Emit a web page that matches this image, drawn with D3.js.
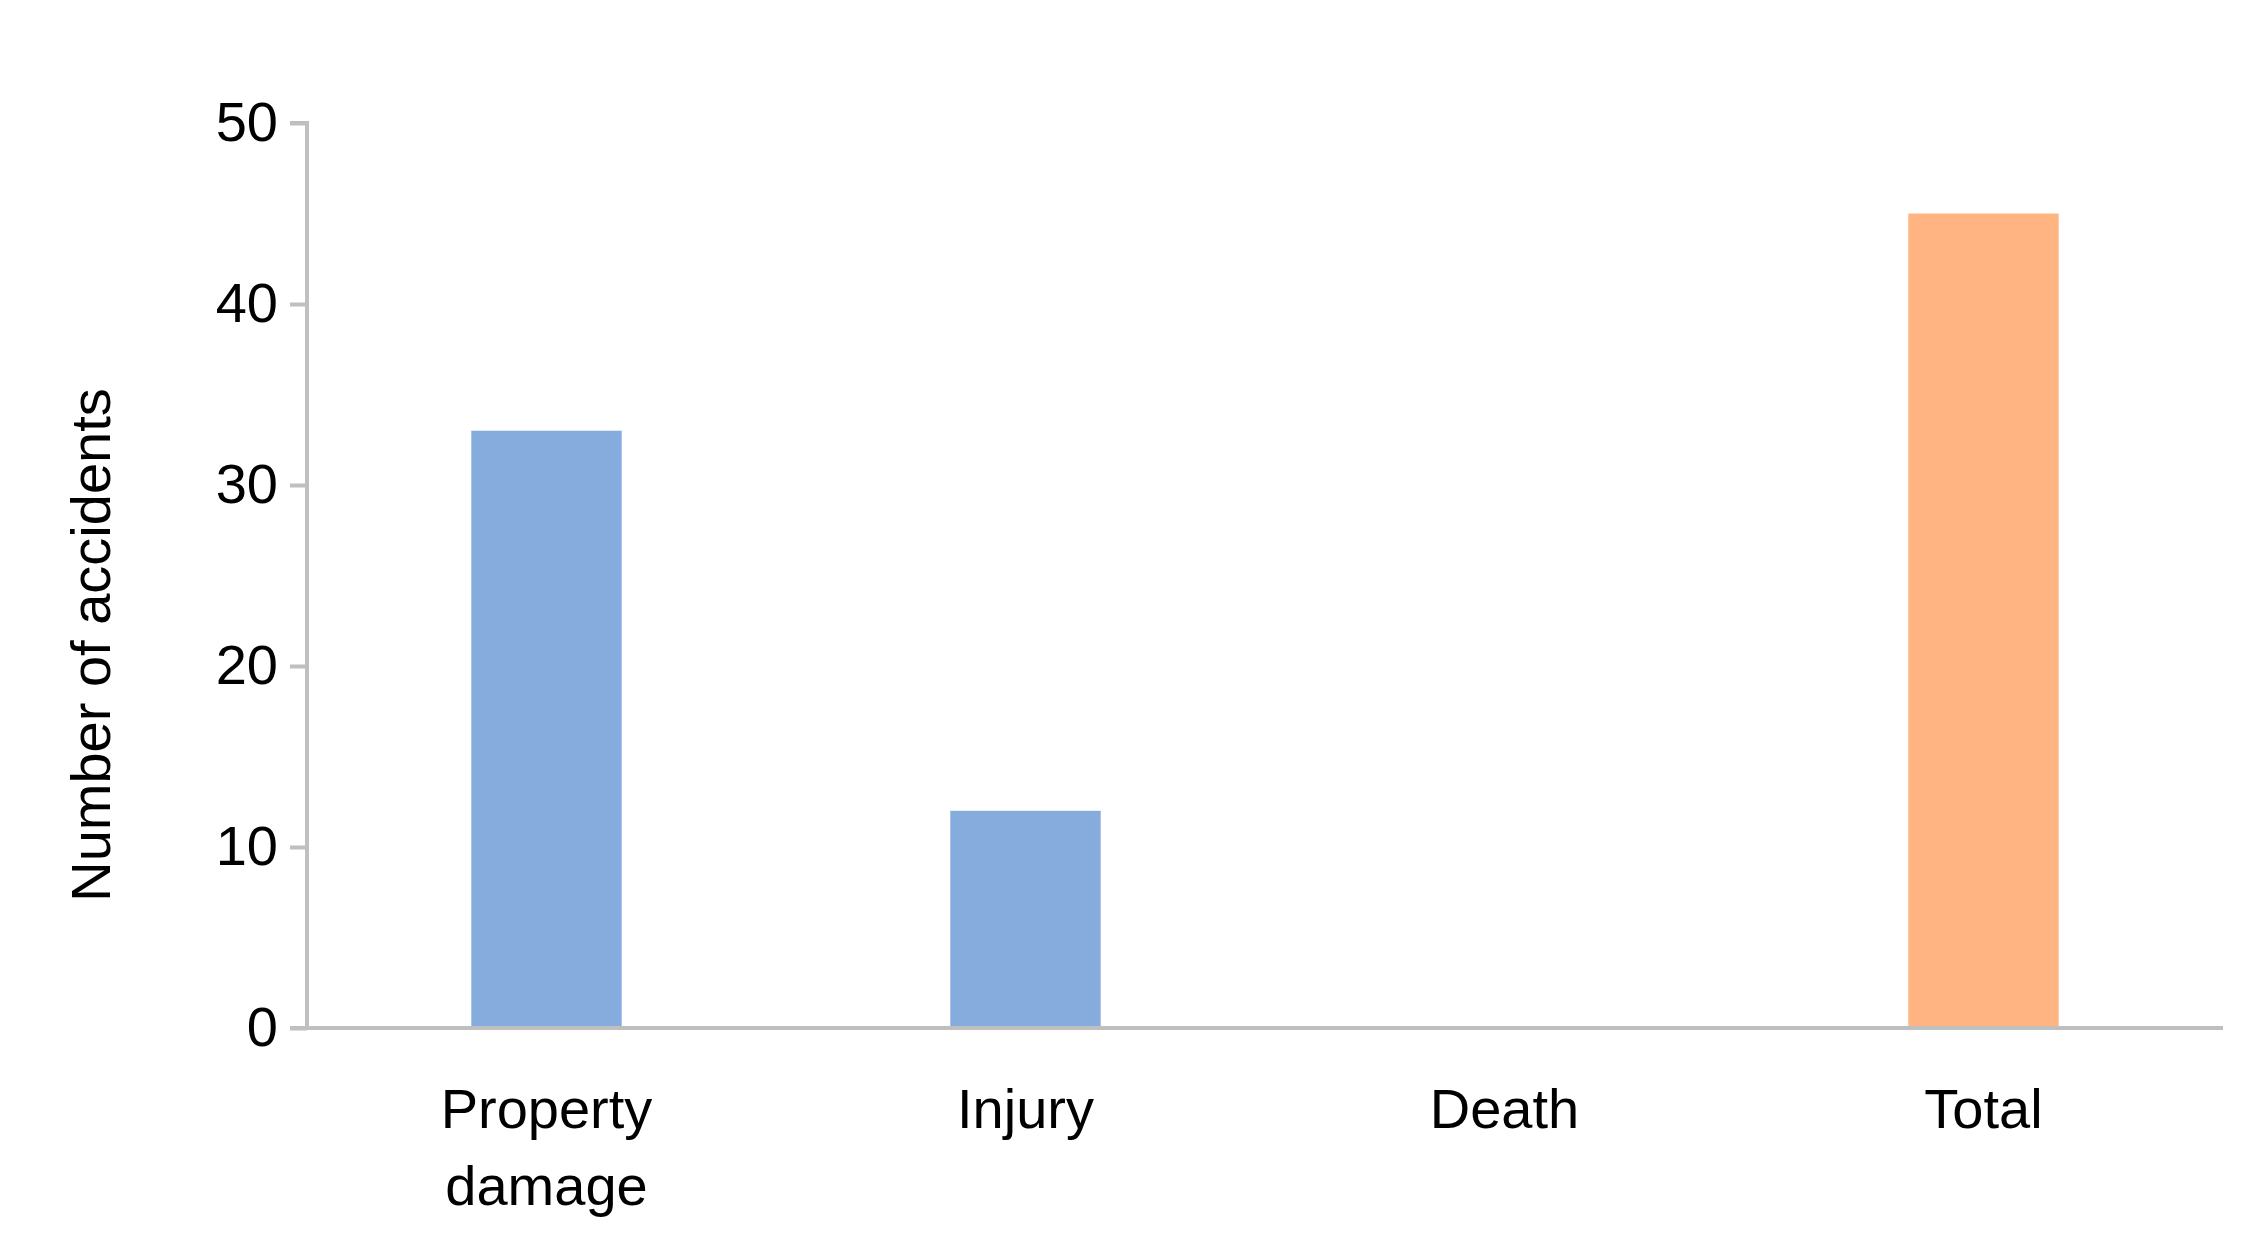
<!DOCTYPE html>
<html><head><meta charset="utf-8">
<script src="https://cdn.jsdelivr.net/npm/d3@7"></script>
<style>body{margin:0;background:#fff}</style></head>
<body><svg id="c" width="2256" height="1244"></svg>
<script>
const categories = [["Property","damage"],["Injury"],["Death"],["Total"]];
const values = [33, 12, 0, 45];
const colors = ["#86ACDE","#86ACDE","#86ACDE","#FFB482"];
const yTicks = [0,10,20,30,40,50];

const svg = d3.select("#c");
const L=307, R=2223, T=123, B=1028;
const x = d3.scaleBand().domain(d3.range(4)).range([L,R]).paddingInner(0.686).paddingOuter(0.343);
const y = d3.scaleLinear().domain([0,50]).range([B,T]);
const font = "Arial, 'Liberation Sans', sans-serif";

svg.selectAll("rect.bar").data(values).join("rect")
  .attr("x",(d,i)=>x(i)).attr("width",x.bandwidth())
  .attr("y",d=>y(d)).attr("height",d=>B-y(d)).attr("fill",(d,i)=>colors[i]);

const gy = svg.append("g").attr("transform",`translate(${L},0)`)
  .call(d3.axisLeft(y).tickValues(yTicks).tickSize(17).tickPadding(12));
gy.select(".domain").attr("stroke","#BFBFBF").attr("stroke-width",4).attr("d",`M-17,${T}H0V${B}`);
gy.selectAll(".tick line").attr("stroke","#BFBFBF").attr("stroke-width",4);
gy.selectAll("text").attr("font-family",font).attr("font-size",56).attr("fill","#000");

svg.append("line").attr("x1",L-17).attr("x2",R).attr("y1",B).attr("y2",B)
  .attr("stroke","#BFBFBF").attr("stroke-width",4);

categories.forEach((lines,i)=>{
  const t = svg.append("text").attr("text-anchor","middle").attr("font-family",font)
    .attr("font-size",56).attr("x",x(i)+x.bandwidth()/2).attr("y",1128);
  lines.forEach((l,j)=>t.append("tspan").attr("x",x(i)+x.bandwidth()/2).attr("dy",j?77:0).text(l));
});

svg.append("text").attr("transform","translate(110,645) rotate(-90)")
  .attr("text-anchor","middle").attr("font-family",font).attr("font-size",56).text("Number of accidents");
</script></body></html>
